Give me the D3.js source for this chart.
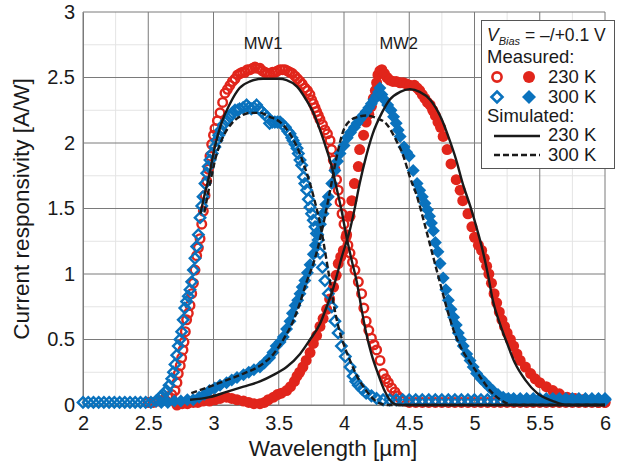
<!DOCTYPE html>
<html><head><meta charset="utf-8">
<script src="https://cdn.jsdelivr.net/npm/d3@7/dist/d3.min.js"></script>
<style>
body{margin:0;background:#fff}
text{font-family:Arial,"Liberation Sans",Helvetica,sans-serif;fill:#1a1a1a}
</style></head><body>
<svg id="chart" width="618" height="467"></svg>
<script>
// ---- Data (wavelength µm, responsivity A/W) ----
const xTickValues = [2, 2.5, 3, 3.5, 4, 4.5, 5, 5.5, 6];
const xTickLabels = ["2", "2.5", "3", "3.5", "4", "4.5", "5", "5.5", "6"];
const yTickValues = [0, 0.5, 1, 1.5, 2, 2.5, 3];
const yTickLabels = ["0", "0.5", "1", "1.5", "2", "2.5", "3"];
const xMinor = [2.25, 2.75, 3.25, 3.75, 4.25, 4.75, 5.25, 5.75];
const yMinor = [0.25, 0.75, 1.25, 1.75, 2.25, 2.75];

// Measured MW1, 230 K (red open circles)
const measMW1_230 = [[2.50,0.02],[2.54,0.02],[2.58,0.03],[2.62,0.04],[2.65,0.06],[2.68,0.08],[2.705,0.11],[2.72,0.17],[2.73,0.24],[2.745,0.30],[2.756,0.36],[2.766,0.42],[2.774,0.48],[2.784,0.56],[2.794,0.65],[2.807,0.70],[2.82,0.76],[2.833,0.85],[2.846,0.93],[2.858,1.03],[2.871,1.14],[2.884,1.20],[2.897,1.27],[2.91,1.38],[2.922,1.48],[2.935,1.60],[2.948,1.71],[2.96,1.80],[2.973,1.90],[2.986,1.99],[3.0,2.06],[3.011,2.11],[3.03,2.17],[3.05,2.23],[3.07,2.31],[3.088,2.38],[3.107,2.41],[3.126,2.44],[3.145,2.47],[3.165,2.49],[3.185,2.52],[3.203,2.53],[3.222,2.54],[3.241,2.54],[3.26,2.56],[3.28,2.56],[3.30,2.57],[3.318,2.58],[3.337,2.57],[3.356,2.57],[3.375,2.55],[3.395,2.54],[3.414,2.53],[3.433,2.53],[3.452,2.54],[3.471,2.54],[3.49,2.55],[3.51,2.56],[3.53,2.56],[3.548,2.56],[3.567,2.55],[3.586,2.54],[3.605,2.53],[3.625,2.51],[3.644,2.49],[3.663,2.47],[3.68,2.45],[3.70,2.42],[3.72,2.40],[3.739,2.37],[3.752,2.33],[3.765,2.30],[3.778,2.27],[3.79,2.24],[3.803,2.21],[3.816,2.18],[3.835,2.14],[3.854,2.10],[3.873,2.07],[3.893,2.02],[3.905,1.95],[3.918,1.87],[3.93,1.80],[3.943,1.72],[3.956,1.64],[3.97,1.55],[3.985,1.46],[4.0,1.38],[4.015,1.28],[4.03,1.22],[4.046,1.16],[4.065,1.09],[4.084,1.03],[4.11,0.94],[4.135,0.85],[4.152,0.74],[4.17,0.64],[4.19,0.57],[4.21,0.51],[4.23,0.46],[4.25,0.42],[4.276,0.34],[4.30,0.24],[4.32,0.20],[4.34,0.17],[4.365,0.13],[4.39,0.10],[4.41,0.07],[4.43,0.05],[4.46,0.03],[4.50,0.02],[4.55,0.02],[4.60,0.02],[4.65,0.02],[4.70,0.02],[4.75,0.02],[4.80,0.02],[4.85,0.02],[4.90,0.02],[4.95,0.02],[5.00,0.02],[5.05,0.02],[5.10,0.02],[5.15,0.02],[5.20,0.02],[5.25,0.02],[5.30,0.02],[5.35,0.02],[5.40,0.02],[5.45,0.02],[5.50,0.02],[5.55,0.02],[5.60,0.02],[5.65,0.02],[5.70,0.02],[5.75,0.02],[5.80,0.02],[5.85,0.02],[5.90,0.02],[5.95,0.02],[6.0,0.02]];

// Measured MW1, 300 K (blue open diamonds)
const measMW1_300 = [[2.0,0.02],[2.04,0.02],[2.08,0.02],[2.12,0.02],[2.16,0.02],[2.20,0.02],[2.24,0.02],[2.28,0.02],[2.32,0.02],[2.36,0.02],[2.40,0.02],[2.44,0.02],[2.48,0.02],[2.52,0.02],[2.56,0.03],[2.59,0.06],[2.615,0.08],[2.64,0.11],[2.66,0.15],[2.68,0.20],[2.693,0.25],[2.705,0.31],[2.718,0.38],[2.73,0.45],[2.743,0.50],[2.756,0.56],[2.768,0.65],[2.78,0.74],[2.794,0.79],[2.807,0.83],[2.82,0.88],[2.833,0.94],[2.846,1.03],[2.858,1.12],[2.871,1.21],[2.884,1.30],[2.897,1.43],[2.91,1.52],[2.92,1.59],[2.935,1.69],[2.948,1.77],[2.96,1.82],[2.973,1.87],[2.99,1.92],[3.01,1.97],[3.025,2.02],[3.04,2.06],[3.057,2.10],[3.075,2.14],[3.10,2.17],[3.126,2.20],[3.145,2.23],[3.165,2.25],[3.185,2.25],[3.20,2.26],[3.227,2.27],[3.254,2.29],[3.27,2.27],[3.29,2.26],[3.31,2.27],[3.33,2.29],[3.35,2.26],[3.37,2.24],[3.39,2.22],[3.41,2.20],[3.43,2.15],[3.45,2.16],[3.47,2.16],[3.49,2.16],[3.51,2.16],[3.53,2.14],[3.55,2.12],[3.57,2.09],[3.586,2.07],[3.60,2.04],[3.61,2.02],[3.625,1.99],[3.64,1.96],[3.65,1.92],[3.663,1.87],[3.676,1.83],[3.69,1.74],[3.70,1.69],[3.714,1.64],[3.727,1.57],[3.74,1.51],[3.752,1.46],[3.765,1.41],[3.778,1.36],[3.79,1.31],[3.803,1.26],[3.816,1.16],[3.835,1.05],[3.854,0.95],[3.88,0.85],[3.906,0.75],[3.93,0.64],[3.955,0.55],[3.98,0.45],[4.01,0.37],[4.046,0.29],[4.07,0.22],[4.09,0.18],[4.11,0.15],[4.14,0.12],[4.17,0.09],[4.21,0.07],[4.25,0.05],[4.30,0.04],[4.35,0.04],[4.40,0.04],[4.45,0.04],[4.50,0.04],[4.55,0.04],[4.60,0.04],[4.65,0.04],[4.70,0.04],[4.75,0.04],[4.80,0.04],[4.85,0.04],[4.90,0.04],[4.95,0.04],[5.00,0.04],[5.05,0.04],[5.10,0.04],[5.15,0.04],[5.20,0.04],[5.25,0.04],[5.30,0.04],[5.35,0.04],[5.40,0.04],[5.45,0.04],[5.50,0.04],[5.55,0.04],[5.60,0.04],[5.65,0.04],[5.70,0.04],[5.75,0.04],[5.80,0.04],[5.85,0.04],[5.90,0.04],[5.95,0.04],[6.0,0.04]];

// Measured MW2, 230 K (red filled circles)
const measMW2_230 = [[2.72,0.0],[2.76,0.01],[2.80,0.01],[2.845,0.02],[2.88,0.02],[2.92,0.03],[2.97,0.03],[3.01,0.04],[3.05,0.05],[3.10,0.06],[3.14,0.05],[3.18,0.04],[3.23,0.03],[3.27,0.02],[3.31,0.01],[3.356,0.01],[3.39,0.02],[3.42,0.04],[3.46,0.06],[3.49,0.08],[3.52,0.09],[3.56,0.11],[3.59,0.14],[3.62,0.18],[3.64,0.22],[3.66,0.25],[3.685,0.29],[3.71,0.34],[3.74,0.40],[3.765,0.47],[3.79,0.53],[3.816,0.60],[3.84,0.66],[3.867,0.73],[3.89,0.81],[3.92,0.90],[3.94,0.99],[3.956,1.08],[3.975,1.13],[3.995,1.18],[4.02,1.30],[4.046,1.44],[4.06,1.56],[4.08,1.69],[4.11,1.82],[4.12,1.95],[4.15,2.06],[4.17,2.16],[4.19,2.22],[4.21,2.28],[4.225,2.34],[4.24,2.40],[4.25,2.46],[4.26,2.52],[4.275,2.55],[4.29,2.56],[4.31,2.53],[4.33,2.50],[4.35,2.48],[4.375,2.47],[4.40,2.47],[4.43,2.46],[4.455,2.46],[4.48,2.45],[4.505,2.44],[4.54,2.44],[4.56,2.42],[4.58,2.40],[4.60,2.37],[4.62,2.34],[4.64,2.31],[4.66,2.29],[4.68,2.25],[4.70,2.21],[4.72,2.16],[4.74,2.12],[4.76,2.05],[4.79,1.95],[4.82,1.84],[4.86,1.72],[4.89,1.64],[4.91,1.56],[4.95,1.46],[4.98,1.36],[5.00,1.28],[5.03,1.22],[5.055,1.18],[5.075,1.12],[5.093,1.06],[5.11,1.00],[5.13,0.93],[5.15,0.85],[5.17,0.78],[5.19,0.71],[5.21,0.65],[5.23,0.60],[5.25,0.55],[5.275,0.50],[5.30,0.45],[5.325,0.39],[5.35,0.34],[5.39,0.29],[5.43,0.24],[5.465,0.20],[5.50,0.17],[5.55,0.14],[5.60,0.11],[5.65,0.085],[5.71,0.06],[5.77,0.05],[5.83,0.04],[5.89,0.03],[5.95,0.02],[6.0,0.02]];

// Measured MW2, 300 K (blue filled diamonds)
const measMW2_300 = [[2.60,0.02],[2.65,0.02],[2.70,0.03],[2.75,0.03],[2.80,0.04],[2.845,0.04],[2.89,0.06],[2.93,0.08],[2.97,0.11],[3.01,0.13],[3.05,0.15],[3.10,0.17],[3.14,0.19],[3.18,0.21],[3.23,0.23],[3.27,0.25],[3.31,0.27],[3.356,0.29],[3.39,0.32],[3.43,0.36],[3.455,0.40],[3.48,0.45],[3.51,0.48],[3.535,0.52],[3.56,0.58],[3.586,0.64],[3.605,0.70],[3.625,0.76],[3.645,0.80],[3.663,0.85],[3.68,0.90],[3.70,0.95],[3.72,1.01],[3.74,1.07],[3.765,1.15],[3.78,1.22],[3.80,1.30],[3.82,1.38],[3.84,1.46],[3.86,1.53],[3.88,1.59],[3.906,1.69],[3.93,1.79],[3.95,1.86],[3.97,1.92],[4.00,1.98],[4.025,2.04],[4.05,2.08],[4.08,2.12],[4.10,2.15],[4.12,2.18],[4.145,2.21],[4.17,2.24],[4.19,2.27],[4.21,2.30],[4.23,2.33],[4.25,2.36],[4.265,2.39],[4.275,2.42],[4.29,2.37],[4.31,2.33],[4.335,2.29],[4.36,2.25],[4.38,2.20],[4.40,2.15],[4.415,2.10],[4.43,2.05],[4.46,1.97],[4.48,1.93],[4.50,1.90],[4.53,1.79],[4.56,1.69],[4.58,1.64],[4.60,1.59],[4.62,1.54],[4.64,1.49],[4.655,1.44],[4.67,1.39],[4.685,1.33],[4.70,1.24],[4.72,1.17],[4.736,1.08],[4.76,0.97],[4.78,0.88],[4.80,0.80],[4.82,0.73],[4.84,0.67],[4.86,0.61],[4.876,0.55],[4.895,0.50],[4.914,0.45],[4.94,0.39],[4.966,0.34],[4.99,0.29],[5.016,0.24],[5.05,0.20],[5.08,0.17],[5.11,0.14],[5.14,0.11],[5.18,0.08],[5.22,0.06],[5.26,0.05],[5.30,0.05],[5.35,0.05],[5.40,0.05],[5.45,0.05],[5.50,0.05],[5.55,0.05],[5.60,0.05],[5.65,0.05],[5.70,0.05],[5.75,0.05],[5.80,0.05],[5.85,0.05],[5.90,0.05],[5.95,0.05],[6.0,0.05]];

// Simulated curves
const simMW1_230 = [[2.90,1.46],[2.93,1.60],[2.96,1.72],[3.01,1.97],[3.06,2.15],[3.126,2.30],[3.20,2.42],[3.28,2.47],[3.38,2.49],[3.50,2.49],[3.56,2.48],[3.64,2.43],[3.71,2.33],[3.765,2.23],[3.816,2.10],[3.867,1.95],[3.906,1.82],[3.94,1.67],[3.98,1.49],[4.02,1.28],[4.06,1.10],[4.10,0.93],[4.135,0.73],[4.17,0.55],[4.21,0.39],[4.26,0.24],[4.31,0.11],[4.38,0.01],[4.42,0],[6.0,0]];
const simMW1_300 = [[2.93,1.47],[2.973,1.69],[3.02,1.90],[3.075,2.05],[3.14,2.15],[3.20,2.20],[3.28,2.23],[3.356,2.23],[3.43,2.20],[3.51,2.16],[3.586,2.07],[3.64,1.97],[3.69,1.84],[3.74,1.69],[3.78,1.54],[3.816,1.39],[3.84,1.26],[3.87,1.08],[3.90,0.90],[3.93,0.72],[3.97,0.55],[4.01,0.43],[4.046,0.34],[4.10,0.22],[4.17,0.11],[4.22,0.05],[4.28,0.01],[4.32,0],[6.0,0]];
const simMW2_230 = [[2.82,0.04],[2.97,0.06],[3.10,0.10],[3.23,0.14],[3.356,0.18],[3.46,0.23],[3.56,0.29],[3.663,0.39],[3.74,0.50],[3.816,0.62],[3.867,0.75],[3.92,0.90],[3.956,1.03],[3.98,1.12],[4.02,1.25],[4.046,1.34],[4.084,1.51],[4.12,1.69],[4.17,1.90],[4.22,2.07],[4.29,2.23],[4.35,2.33],[4.43,2.39],[4.505,2.41],[4.58,2.39],[4.66,2.33],[4.74,2.20],[4.81,2.02],[4.86,1.87],[4.91,1.69],[4.97,1.51],[5.02,1.34],[5.055,1.21],[5.106,0.98],[5.14,0.80],[5.195,0.62],[5.25,0.47],[5.31,0.32],[5.39,0.19],[5.48,0.09],[5.60,0.03],[5.71,0.0],[6.0,0]];
const simMW2_300 = [[2.83,0.09],[2.97,0.14],[3.10,0.19],[3.23,0.24],[3.356,0.30],[3.46,0.39],[3.535,0.50],[3.61,0.64],[3.663,0.78],[3.71,0.93],[3.765,1.08],[3.80,1.20],[3.85,1.42],[3.89,1.62],[3.956,1.95],[3.99,2.08],[4.046,2.17],[4.11,2.20],[4.17,2.21],[4.25,2.19],[4.33,2.14],[4.40,2.02],[4.455,1.90],[4.505,1.74],[4.56,1.59],[4.61,1.41],[4.66,1.22],[4.71,1.03],[4.75,0.88],[4.79,0.73],[4.84,0.57],[4.89,0.45],[4.97,0.32],[5.04,0.22],[5.12,0.11],[5.20,0.04],[5.30,0.0],[6.0,0]];

const annotations = [{label:"MW1", x:3.38, y:2.72},{label:"MW2", x:4.42, y:2.72}];

// ---- Drawing ----
const RED = "#e1251b", BLUE = "#0a72bd", BLACK = "#1a1a1a";
const svg = d3.select("#chart");
const L = 83, R = 605, T = 12, B = 405;
const x = d3.scaleLinear().domain([2, 6]).range([L, R]);
const y = d3.scaleLinear().domain([0, 3]).range([B, T]);

const grid = svg.append("g");
grid.selectAll(".vm").data(xMinor).enter().append("line")
  .attr("x1", d => x(d)).attr("x2", d => x(d)).attr("y1", T).attr("y2", B)
  .attr("stroke", "#e4e4e4").attr("stroke-width", 1);
grid.selectAll(".hm").data(yMinor).enter().append("line")
  .attr("y1", d => y(d)).attr("y2", d => y(d)).attr("x1", L).attr("x2", R)
  .attr("stroke", "#e4e4e4").attr("stroke-width", 1);
grid.selectAll(".vM").data(xTickValues).enter().append("line")
  .attr("x1", d => x(d)).attr("x2", d => x(d)).attr("y1", T).attr("y2", B)
  .attr("stroke", "#7a7a7a").attr("stroke-width", 1);
grid.selectAll(".hM").data(yTickValues).enter().append("line")
  .attr("y1", d => y(d)).attr("y2", d => y(d)).attr("x1", L).attr("x2", R)
  .attr("stroke", "#7a7a7a").attr("stroke-width", 1);

// axes via d3
const xAxis = d3.axisBottom(x).tickValues(xTickValues).tickFormat((d,i) => xTickLabels[i]).tickSize(0).tickPadding(11);
const yAxis = d3.axisLeft(y).tickValues(yTickValues).tickFormat((d,i) => yTickLabels[i]).tickSize(0).tickPadding(8);
const gx = svg.append("g").attr("transform", `translate(0,${B})`).call(xAxis);
const gy = svg.append("g").attr("transform", `translate(${L},0)`).call(yAxis);
[gx, gy].forEach(g => {
  g.select(".domain").attr("stroke", "#7a7a7a");
  g.selectAll("text").attr("font-size", 20).attr("font-family", "Arial, 'Liberation Sans', sans-serif").attr("fill", "#1a1a1a");
});

svg.append("text").attr("x", 333).attr("y", 456).attr("text-anchor", "middle")
  .attr("font-size", 22.5).text("Wavelength [µm]");
svg.append("text").attr("transform", "translate(29,209) rotate(-90)").attr("text-anchor", "middle")
  .attr("font-size", 22.5).text("Current responsivity [A/W]");

// markers
const plot = svg.append("g");
const diamond = (cx, cy, s) => `M${cx},${cy-s}L${cx+s},${cy}L${cx},${cy+s}L${cx-s},${cy}Z`;
function openCircles(data) {
  plot.append("g").selectAll("circle").data(data).enter().append("circle")
    .attr("cx", d => x(d[0])).attr("cy", d => y(d[1])).attr("r", 4.3)
    .attr("fill", "none").attr("stroke", RED).attr("stroke-width", 2.4);
}
function filledCircles(data) {
  plot.append("g").selectAll("circle").data(data).enter().append("circle")
    .attr("cx", d => x(d[0])).attr("cy", d => y(d[1])).attr("r", 5.5).attr("fill", RED);
}
function openDiamonds(data) {
  plot.append("g").selectAll("path").data(data).enter().append("path")
    .attr("d", d => diamond(x(d[0]), y(d[1]), 5.2))
    .attr("fill", "none").attr("stroke", BLUE).attr("stroke-width", 2.4);
}
function filledDiamonds(data) {
  plot.append("g").selectAll("path").data(data).enter().append("path")
    .attr("d", d => diamond(x(d[0]), y(d[1]), 6.5)).attr("fill", BLUE);
}
openCircles(measMW1_230);
filledCircles(measMW2_230);
openDiamonds(measMW1_300);
filledDiamonds(measMW2_300);

const line = d3.line().x(d => x(d[0])).y(d => y(d[1])).curve(d3.curveMonotoneX);
plot.append("path").datum(simMW1_230).attr("d", line).attr("fill", "none").attr("stroke", BLACK).attr("stroke-width", 2.4);
plot.append("path").datum(simMW2_230).attr("d", line).attr("fill", "none").attr("stroke", BLACK).attr("stroke-width", 2.4);
plot.append("path").datum(simMW1_300).attr("d", line).attr("fill", "none").attr("stroke", BLACK).attr("stroke-width", 2.4).attr("stroke-dasharray", "6,3");
plot.append("path").datum(simMW2_300).attr("d", line).attr("fill", "none").attr("stroke", BLACK).attr("stroke-width", 2.4).attr("stroke-dasharray", "6,3");

svg.selectAll(".ann").data(annotations).enter().append("text")
  .attr("x", d => x(d.x)).attr("y", d => y(d.y)).attr("text-anchor", "middle")
  .attr("font-size", 16.5).text(d => d.label);

// legend
const lg = svg.append("g");
lg.append("rect").attr("x", 481.5).attr("y", 20.5).attr("width", 133).attr("height", 148)
  .attr("fill", "#fff").attr("stroke", "#555").attr("stroke-width", 1);
const vt = lg.append("text").attr("x", 487).attr("y", 41).attr("font-size", 17.5);
vt.append("tspan").attr("font-style", "italic").text("V");
vt.append("tspan").attr("font-style", "italic").attr("font-size", 11).attr("dy", 4).text("Bias");
vt.append("tspan").attr("dy", -4).text(" = –/+0.1 V");
lg.append("text").attr("x", 487).attr("y", 63).attr("font-size", 18.5).text("Measured:");
lg.append("circle").attr("cx", 497).attr("cy", 77).attr("r", 4.6).attr("fill", "none").attr("stroke", RED).attr("stroke-width", 2.6);
lg.append("circle").attr("cx", 529).attr("cy", 77).attr("r", 6).attr("fill", RED);
lg.append("text").attr("x", 548).attr("y", 83).attr("font-size", 18.5).text("230 K");
lg.append("path").attr("d", diamond(497, 97, 5.5)).attr("fill", "none").attr("stroke", BLUE).attr("stroke-width", 2.6);
lg.append("path").attr("d", diamond(529, 97, 7)).attr("fill", BLUE);
lg.append("text").attr("x", 548).attr("y", 103).attr("font-size", 18.5).text("300 K");
lg.append("text").attr("x", 487).attr("y", 122).attr("font-size", 18.5).text("Simulated:");
lg.append("line").attr("x1", 494).attr("x2", 540).attr("y1", 136).attr("y2", 136).attr("stroke", BLACK).attr("stroke-width", 2.4);
lg.append("text").attr("x", 548).attr("y", 141).attr("font-size", 18.5).text("230 K");
lg.append("line").attr("x1", 494).attr("x2", 540).attr("y1", 155).attr("y2", 155).attr("stroke", BLACK).attr("stroke-width", 2.4).attr("stroke-dasharray", "6,3");
lg.append("text").attr("x", 548).attr("y", 161).attr("font-size", 18.5).text("300 K");
</script></body></html>
